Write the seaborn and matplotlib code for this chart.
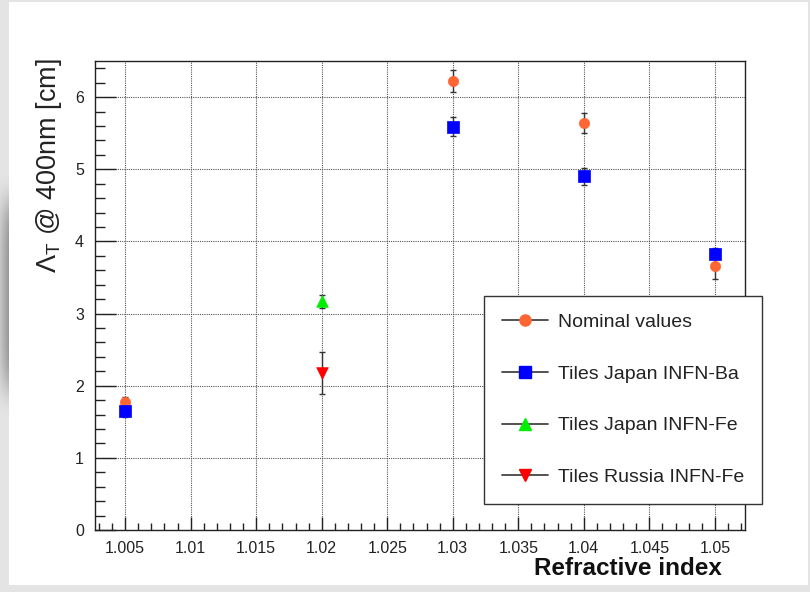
import numpy as np
import pandas as pd
import matplotlib
matplotlib.use("Agg")
import matplotlib.pyplot as plt
from matplotlib.patches import Rectangle
from matplotlib.lines import Line2D
from matplotlib.ticker import MultipleLocator, FuncFormatter
import seaborn as sns

# Measured attenuation length at 400 nm vs refractive index
nominal_n = [1.005, 1.03, 1.04, 1.05]
nominal_val = [1.77, 6.22, 5.64, 3.66]
nominal_err = [0.08, 0.15, 0.14, 0.18]

ba_n = [1.005, 1.03, 1.04, 1.05]
ba_val = [1.65, 5.59, 4.90, 3.83]
ba_err = [0.08, 0.13, 0.12, 0.08]

jfe_n = [1.02]
jfe_val = [3.17]
jfe_err = [0.09]

rfe_n = [1.02]
rfe_val = [2.18]
rfe_err = [0.29]

series_names = ["Nominal values", "Tiles Japan INFN-Ba", "Tiles Japan INFN-Fe", "Tiles Russia INFN-Fe"]
series_colors = ["#ff6633", "#0000ff", "#00ee00", "#ff0000"]
series_markers = ["o", "s", "^", "v"]
series_sizes = [55, 80, 70, 70]

sns.set_theme(style="white")
plt.rcParams["font.family"] = ["Liberation Sans", "DejaVu Sans"]
plt.rcParams["mathtext.fontset"] = "custom"
plt.rcParams["mathtext.rm"] = "Liberation Sans"
plt.rcParams["mathtext.it"] = "Liberation Sans:italic"

W, H = 810, 592
BG = 0.894
fig = plt.figure(figsize=(W / 100, H / 100), dpi=100, facecolor=(BG, BG, BG))

# white canvas panel
fig.patches.append(Rectangle((9 / W, 1 - 585 / H), (808 - 9) / W, (585 - 2) / H,
                             transform=fig.transFigure, facecolor="white",
                             edgecolor="none", zorder=-5))
# soft shadow on the left border
sh = fig.add_axes([0, 1 - 415 / H, 9 / W, 240 / H], zorder=-4)
yy = np.linspace(-1, 1, 200)
xx = np.linspace(0, 1, 20)
prof = np.exp(-(yy[:, None] / 0.8) ** 6) * (0.4 + 0.6 * xx[None, :])
sh.imshow(BG - 0.3 * prof, cmap="gray", vmin=0, vmax=1, aspect="auto",
          interpolation="bilinear")
sh.axis("off")

ax = fig.add_axes([95 / W, 1 - 530 / H, 650 / W, 469 / H])
ax.set_facecolor("white")

all_n = [nominal_n, ba_n, jfe_n, rfe_n]
all_v = [nominal_val, ba_val, jfe_val, rfe_val]
all_e = [nominal_err, ba_err, jfe_err, rfe_err]

frames = []
for name, n, v, e in zip(series_names, all_n, all_v, all_e):
    frames.append(pd.DataFrame({"n": n, "val": v, "err": e, "series": name}))
df = pd.concat(frames, ignore_index=True)

# error bars
for name in series_names:
    d = df[df["series"] == name]
    ax.errorbar(d["n"], d["val"], yerr=d["err"], fmt="none", ecolor="#333333",
                elinewidth=1.0, capsize=2, capthick=1.0, zorder=3)

# markers
for name, c, m, s in zip(series_names, series_colors, series_markers, series_sizes):
    d = df[df["series"] == name]
    sns.scatterplot(data=d, x="n", y="val", color=c, marker=m, s=s,
                    edgecolor=c, linewidth=0.5, ax=ax, legend=False, zorder=4)

ax.set_xlim(1.0027, 1.0523)
ax.set_ylim(0, 6.5)

ax.xaxis.set_major_locator(MultipleLocator(0.005))
ax.xaxis.set_minor_locator(MultipleLocator(0.001))
ax.yaxis.set_major_locator(MultipleLocator(1))
ax.yaxis.set_minor_locator(MultipleLocator(0.2))
ax.xaxis.set_major_formatter(FuncFormatter(lambda v, p: f"{v:.3f}".rstrip("0")))
ax.yaxis.set_major_formatter(FuncFormatter(lambda v, p: f"{v:.0f}"))

ax.tick_params(axis="x", which="major", direction="in", length=9.5, width=1,
               color="#222222", labelsize=11.5, pad=8, labelcolor="#222222",
               top=False, bottom=True)
ax.tick_params(axis="x", which="minor", direction="in", length=4.8, width=1,
               color="#222222", top=False, bottom=True)
ax.tick_params(axis="y", which="major", direction="in", length=15, width=1,
               color="#222222", labelsize=11.5, pad=8, labelcolor="#222222",
               right=False, left=True)
ax.tick_params(axis="y", which="minor", direction="in", length=7.5, width=1,
               color="#222222", right=False, left=True)

ax.grid(True, which="major", color="#555555", linestyle=(0, (1, 1)), linewidth=0.8)
ax.set_axisbelow(True)
for sp in ax.spines.values():
    sp.set_visible(True)
    sp.set_color("#222222")
    sp.set_linewidth(1.0)

ax.set_xlabel("Refractive index", fontsize=17.5, fontweight="bold", color="#111111")
ax.xaxis.set_label_coords((722 - 95) / 650, -0.058)
ax.xaxis.label.set_horizontalalignment("right")
ax.xaxis.label.set_verticalalignment("top")

ax.set_ylabel(r"$\Lambda_{\mathrm{T}}$ @ 400nm [cm]", fontsize=19.5, color="#222222")
ax.yaxis.set_label_coords(-0.047, 1.006)
ax.yaxis.label.set_horizontalalignment("right")

handles = [Line2D([0], [0], color="#444444", lw=1.3, marker=m, markersize=ms,
                  markerfacecolor=c, markeredgecolor=c)
           for c, m, ms in zip(series_colors, series_markers, [8, 9, 9, 9])]
leg = ax.legend(handles, series_names, loc="upper left",
                bbox_to_anchor=(484 / W, 1 - 296 / H - 0.01, (762 - 484) / W, 0.01),
                bbox_transform=fig.transFigure, mode="expand",
                fontsize=14, frameon=True, fancybox=False, framealpha=1,
                edgecolor="#333333", borderpad=0.9, labelspacing=1.75,
                handlelength=2.4, handletextpad=0.5, borderaxespad=0)
leg.get_frame().set_linewidth(1.0)
leg.set_zorder(10)
for t in leg.get_texts():
    t.set_color("#222222")

fig.savefig("out.png", dpi=100, facecolor=fig.get_facecolor())
